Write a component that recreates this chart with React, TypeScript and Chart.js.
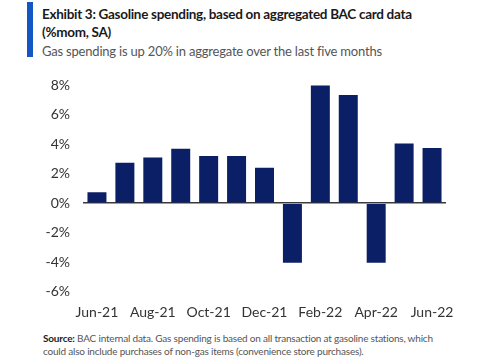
import React, { useEffect, useRef } from "react";
import { Chart, registerables } from "chart.js";

Chart.register(...registerables);

const months = ["Jun-21", "Jul-21", "Aug-21", "Sep-21", "Oct-21", "Nov-21", "Dec-21", "Jan-22", "Feb-22", "Mar-22", "Apr-22", "May-22", "Jun-22"];
const spending = [0.75, 2.75, 3.1, 3.7, 3.2, 3.2, 2.4, -4.05, 8.1, 7.35, -4.05, 4.05, 3.75];
const yMin = -6;
const yMax = 8;
const yStep = 2;

const FONT = "Lato, 'Open Sans', sans-serif";

export default function App() {
  const ref = useRef<HTMLCanvasElement | null>(null);

  useEffect(() => {
    if (!ref.current) return;
    const chart = new Chart(ref.current, {
      type: "bar",
      data: {
        labels: months,
        datasets: [
          {
            data: spending,
            backgroundColor: "#0b1f66",
            borderWidth: 0,
            categoryPercentage: 1,
            barPercentage: 0.68,
          },
        ],
      },
      options: {
        animation: false,
        responsive: false,
        maintainAspectRatio: false,
        layout: { padding: { left: 0, right: 39, top: 9, bottom: 0 } },
        plugins: { legend: { display: false }, tooltip: { enabled: false } },
        scales: {
          x: {
            grid: { display: false },
            border: { display: false },
            ticks: {
              autoSkip: false,
              maxRotation: 0,
              padding: 5,
              color: "#333",
              font: { family: FONT, size: 14 },
              callback: (_v: any, i: number) => (i % 2 === 0 ? months[i] : ""),
            },
            afterFit: (s: any) => {
              s.height = 33.5;
            },
          },
          y: {
            min: yMin,
            max: yMax,
            ticks: {
              stepSize: yStep,
              padding: 13,
              color: "#333",
              font: { family: FONT, size: 14 },
              callback: (v: any) => `${v}%`,
            },
            grid: {
              drawTicks: false,
              color: (ctx: any) => (ctx.tick && ctx.tick.value === 0 ? "#3a3a3a" : "rgba(0,0,0,0)"),
              lineWidth: (ctx: any) => (ctx.tick && ctx.tick.value === 0 ? 1.5 : 0),
            },
            border: { display: false },
            afterFit: (s: any) => {
              s.width = 83;
            },
          },
        },
      },
    });
    return () => chart.destroy();
  }, []);

  return (
    <div style={{ position: "fixed", left: 0, top: 0, width: 485, height: 360, background: "#fff", overflow: "hidden", fontFamily: FONT }}>
      <div style={{ position: "absolute", left: 27, top: 2, width: 6, height: 55, background: "#1456c4" }} />
      <div style={{ position: "absolute", left: 42, top: 5, fontWeight: 700, fontSize: 13.5, lineHeight: "18px", color: "#1a1a1a", letterSpacing: -0.3 }}>
        Exhibit 3: Gasoline spending, based on aggregated BAC card data
        <br />
        (%mom, SA)
      </div>
      <div style={{ position: "absolute", left: 42, top: 43, fontSize: 13, lineHeight: "16px", color: "#555", letterSpacing: -0.2 }}>
        Gas spending is up 20% in aggregate over the last five months
      </div>
      <canvas ref={ref} width={485} height={261} style={{ position: "absolute", left: 0, top: 64, width: 485, height: 261 }} />
      <div style={{ position: "absolute", left: 43, top: 332, fontSize: 10, lineHeight: "12.5px", color: "#555", width: 440, letterSpacing: -0.2 }}>
        <span style={{ fontWeight: 700, color: "#222" }}>Source:</span> BAC internal data. Gas spending is based on all transaction at gasoline stations, which
        <br />
        could also include purchases of non-gas items (convenience store purchases).
      </div>
    </div>
  );
}
